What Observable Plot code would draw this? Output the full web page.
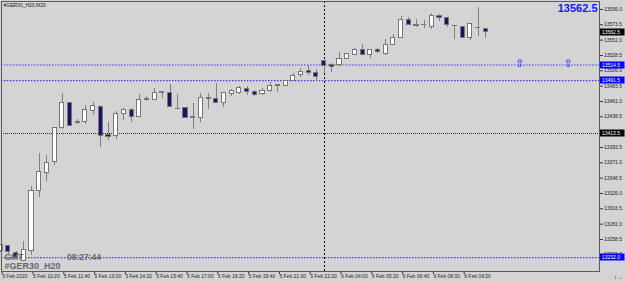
<!DOCTYPE html>
<html><head><meta charset="utf-8">
<script src="https://cdn.jsdelivr.net/npm/d3@7"></script>
<script src="https://cdn.jsdelivr.net/npm/@observablehq/plot@0.6"></script>
<style>
html,body{margin:0;padding:0;background:#d4d4d4;}
#chart{width:625px;height:281px;overflow:hidden;}
</style></head><body><div id="chart"></div>
<script>
// ---- data (20-minute bars, #GER30_H20) ----
const opens = [13241,13248.5,13238,13227.5,13241,13329.5,13356.5,13372,13421.5,13458.5,13430,13430.5,13447,13453.5,13412.5,13410,13442,13448,13438,13464.5,13463.5,13474,13473,13450.5,13451.5,13437,13437,13466,13464,13459,13472.5,13474,13480,13475,13472,13477,13484,13484,13491,13499.5,13505.5,13502.5,13520,13514.5,13514,13523.5,13529.5,13537,13528.5,13536,13531,13544.5,13554.5,13581,13572.5,13573,13570,13586,13583,13572,13570,13554.5,13569,13568];
const highs = [13251,13250,13241,13256,13336,13384,13382,13423,13473,13460,13434.5,13455,13459.5,13455,13429.5,13446.5,13450.5,13450,13471.5,13468,13480.5,13475,13486,13471,13452,13457.5,13472,13472,13487,13474,13479,13483,13483.5,13476.5,13479.5,13489.5,13485,13491,13501.5,13509,13514,13508,13520.5,13517,13533.5,13531.5,13539,13544,13536.5,13539,13552,13559,13586,13584,13581,13580,13590.5,13588.5,13583.5,13572.5,13571,13575.5,13599.5,13568.5];
const lows = [13239,13237,13230.5,13226,13235,13320,13344,13367,13419.5,13424,13427,13427,13440.5,13394,13404,13405,13433,13429.5,13437,13461.5,13462,13465,13452,13449,13436,13419.5,13430,13449,13458,13451.5,13469,13471.5,13470,13468.5,13470,13474.5,13474.5,13483.5,13490.5,13496.5,13499,13490.5,13501.5,13504,13513,13522.5,13528.5,13528,13524.5,13532,13528.5,13544,13554,13572,13569,13567.5,13566,13579,13569,13551.5,13554,13550.5,13556.5,13554];
const closes = [13250,13240,13232,13242.5,13329.5,13357.5,13371,13422.5,13459,13425.5,13431,13448,13455,13410,13408.5,13442,13448,13438,13462.5,13463,13473,13474.5,13452.5,13450,13436.5,13438,13466.5,13464,13458.5,13474,13476,13481,13475,13471,13477,13483,13484.5,13491,13499,13504.5,13502.5,13497.5,13513.5,13512,13523.5,13530,13536,13528.5,13536,13533.5,13544.5,13554.5,13581,13572.5,13572,13573.5,13586,13583,13572.5,13571.5,13554.5,13575,13568.5,13562.5];

const timeTickBars = [0,4,8,12,16,20,24,28,32,36,40,44,48,52,56,60];
const timeLabels = ["5 Feb 2020","5 Feb 10:20","5 Feb 11:40","5 Feb 13:00","5 Feb 14:20","5 Feb 15:40","5 Feb 17:00","5 Feb 18:20","5 Feb 19:40","5 Feb 21:00","5 Feb 22:20","6 Feb 04:00","6 Feb 05:20","6 Feb 06:40","6 Feb 08:00","6 Feb 09:20"];
const priceTicks = [13596.0,13573.5,13551.0,13528.5,13506.0,13483.5,13461.0,13438.5,13416.0,13393.5,13371.0,13348.5,13326.0,13303.5,13281.0,13258.5,13236.0];

const currentPrice = 13562.5;
const blueLevels = [13514.5, 13491.5, 13232.0];
const blackLevels = [13413.5];
const separatorBars = [42];
const arrowBars = [67.4, 73.7];
const arrowLevel = 13517;
const symbolTitle = "#GER30_H20,M20";
const clockZone = "GMT";
const clockTime = "08:27:44";
const symbolName = "#GER30_H20";

// ---- build ----
const candles = opens.map((o, i) => ({i, o, h: highs[i], l: lows[i], c: closes[i], up: closes[i] > o}));
const tags = [
  ...[currentPrice].map(v => ({v, bg: "#000000"})),
  ...blackLevels.map(v => ({v, bg: "#000000"})),
  ...blueLevels.map(v => ({v, bg: "#0000ff"}))
];

function priceTags(index, scales, values, dims) {
  const g = d3.create("svg:g");
  const x0 = dims.width - dims.marginRight;
  for (const t of tags) {
    const y = scales.y(t.v);
    g.append("rect").attr("x", x0 + 1).attr("y", Math.round(y) - 3.5).attr("width", 24.5).attr("height", 7).attr("fill", t.bg);
    g.append("text").attr("x", x0 + 3).attr("y", Math.round(y) + 0.3).attr("dy", "0.36em")
      .attr("text-anchor", "start")
      .attr("fill", "#fff").attr("font-size", 5).attr("font-family", "Liberation Sans, Arial, sans-serif")
      .text(t.v.toFixed(1));
  }
  return g.node();
}

const chart = Plot.plot({
  width: 625, height: 281,
  marginLeft: 1, marginRight: 26, marginTop: 1, marginBottom: 10,
  style: {background: "#d4d4d4", fontFamily: "Liberation Sans, Arial, sans-serif", overflow: "visible"},
  x: {domain: [0.104, 77.77], axis: null},
  y: {domain: [13211.5, 13607.7], axis: null},
  marks: [
    Plot.ruleX(separatorBars, {x: d => d, stroke: "#111", strokeDasharray: "2,2", shapeRendering: "crispEdges"}),
    Plot.ruleY(blueLevels, {y: d => d, stroke: "#3a3aff", strokeWidth: 1.2, strokeDasharray: "1.5,1.5"}),
    Plot.ruleY(blackLevels, {y: d => d, stroke: "#303010", strokeDasharray: "1,1", shapeRendering: "crispEdges"}),
    Plot.ruleX(candles, {x: "i", y1: "l", y2: "h", stroke: "#808080", shapeRendering: "crispEdges"}),
    Plot.rect(candles, {x1: d => d.i - 0.27, x2: d => d.i + 0.27, y1: "o", y2: "c",
      fill: d => d.up ? "#ffffff" : "#15156a", stroke: "#777777", shapeRendering: "crispEdges"}),
    Plot.text(arrowBars, {x: d => d, y: () => arrowLevel, text: () => "\u21E7", fill: "#1a1aff",
      fontSize: 11, fontFamily: "DejaVu Sans"}),
    Plot.text([currentPrice], {frameAnchor: "top-right", text: d => d.toFixed(1), dx: -2, dy: 3,
      lineAnchor: "top", textAnchor: "end", fontWeight: "bold", fontSize: 11, fill: "#1616ff"}),
    Plot.text([symbolTitle], {frameAnchor: "top-left", text: d => d, dx: 2, dy: 1.5, lineAnchor: "top",
      textAnchor: "start", fontSize: 5, fill: "#1a1a1a"}),
    Plot.text([clockZone], {frameAnchor: "bottom-left", text: d => d, dx: 3, dy: -12, lineAnchor: "bottom",
      textAnchor: "start", fontSize: 8.5, fontWeight: "bold", fill: "#686868"}),
    Plot.text([clockTime], {frameAnchor: "bottom-left", text: d => d, dx: 65.5, dy: -12, lineAnchor: "bottom",
      textAnchor: "start", fontSize: 8.5, fontWeight: "bold", fill: "#686868"}),
    Plot.text([symbolName], {frameAnchor: "bottom-left", text: d => d, dx: 3, dy: -3, lineAnchor: "bottom",
      textAnchor: "start", fontSize: 9, fontWeight: "bold", fill: "#686868"}),
    Plot.axisY({anchor: "right", ticks: priceTicks, tickFormat: d => d.toFixed(1), tickSize: 3, tickPadding: 1.5,
      fontSize: 5, stroke: "#333", fill: "#222"}),
    Plot.axisX({anchor: "bottom", ticks: timeTickBars, tickFormat: d => timeLabels[timeTickBars.indexOf(d)],
      tickSize: 3, tickPadding: -0.5, textAnchor: "start", dx: 1.5, fontSize: 5, stroke: "#333", fill: "#222"}),
    Plot.frame({stroke: "#5a5a5a"}),
    priceTags
  ]
});
document.getElementById("chart").appendChild(chart);
</script>
</body></html>
